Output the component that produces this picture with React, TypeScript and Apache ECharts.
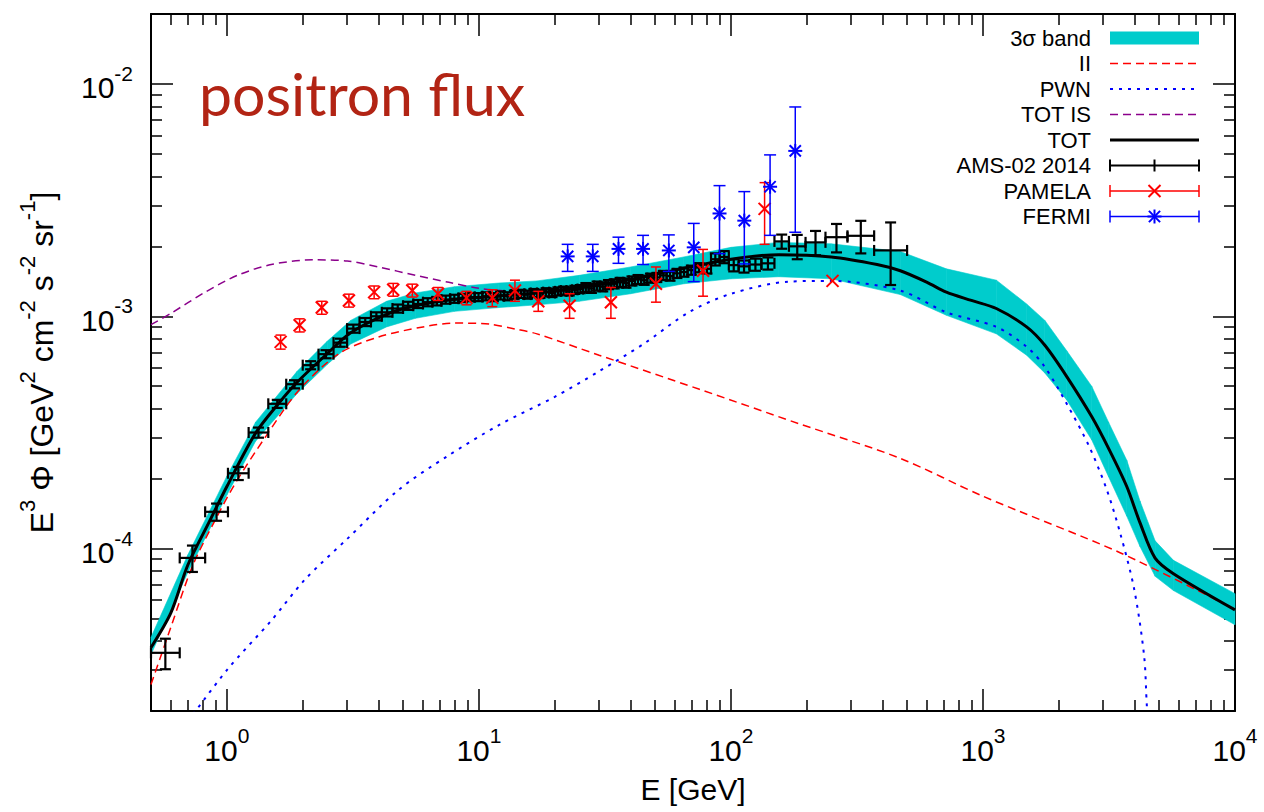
import React, { useEffect, useRef } from "react";
import * as echarts from "echarts";

const FONT = '"Liberation Sans", Arial, Helvetica, sans-serif';
const BAND_COLOR = "#00CCCC";
const RED = "#FF0000";
const BLUE = "#0000FF";
const PURPLE = "#8B008B";
const TITLE_COLOR = "#B22414";

// ---------- axes ----------
const xRange = [0.5, 10000];
const yRange = [2e-5, 2e-2];
const xMajorTicks = [1, 10, 100, 1000, 10000];
const xMinorTicks = [0.6, 0.7, 0.8, 0.9, 2, 3, 4, 5, 6, 7, 8, 9, 20, 30, 40, 50, 60, 70, 80, 90, 200, 300, 400, 500, 600, 700, 800, 900, 2000, 3000, 4000, 5000, 6000, 7000, 8000, 9000];
const yMajorTicks = [1e-4, 1e-3, 1e-2];
const yMinorTicks = [3e-5, 4e-5, 5e-5, 6e-5, 7e-5, 8e-5, 9e-5, 2e-4, 3e-4, 4e-4, 5e-4, 6e-4, 7e-4, 8e-4, 9e-4, 2e-3, 3e-3, 4e-3, 5e-3, 6e-3, 7e-3, 8e-3, 9e-3];

// ---------- model curves ----------
const bandE = [0.5, 0.7, 1.0, 1.3, 1.9, 2.5, 3.1, 4.3, 5.6, 8, 12, 17, 25, 40, 65, 100, 155, 250, 470, 716, 1130, 1490, 1760, 2150, 2700, 3150, 3720, 4200, 4820, 5700, 10000];
const bandUpper = [4.15e-5, 9.4e-5, 2.05e-4, 3.5e-4, 5.8e-4, 7.8e-4, 9.6e-4, 1.16e-3, 1.26e-3, 1.34e-3, 1.39e-3, 1.42e-3, 1.5e-3, 1.63e-3, 1.8e-3, 1.98e-3, 2.08e-3, 2.05e-3, 1.9e-3, 1.6e-3, 1.43e-3, 1.13e-3, 9.6e-4, 7.1e-4, 5.0e-4, 3.5e-4, 2.4e-4, 1.6e-4, 1.08e-4, 8.9e-5, 6.4e-5];
const bandLower = [3.5e-5, 7.9e-5, 1.7e-4, 2.9e-4, 4.65e-4, 6.2e-4, 7.6e-4, 9.0e-4, 9.8e-4, 1.05e-3, 1.09e-3, 1.12e-3, 1.16e-3, 1.25e-3, 1.38e-3, 1.45e-3, 1.48e-3, 1.45e-3, 1.24e-3, 1.01e-3, 8.4e-4, 6.8e-4, 5.7e-4, 4.36e-4, 2.94e-4, 2.04e-4, 1.38e-4, 1.02e-4, 7.6e-5, 6.6e-5, 4.7e-5];

const iiE = [0.5, 0.6, 0.73, 0.9, 1.08, 1.43, 1.93, 2.78, 4.0, 6.0, 8.0, 11, 14, 17, 30, 75, 186, 468, 1000, 3500, 10000];
const iiF = [2.6e-5, 4.6e-5, 8.4e-5, 1.33e-4, 1.91e-4, 3.05e-4, 4.8e-4, 6.9e-4, 8.15e-4, 9.0e-4, 9.35e-4, 9.25e-4, 8.8e-4, 8.4e-4, 6.8e-4, 4.85e-4, 3.45e-4, 2.45e-4, 1.68e-4, 9.6e-5, 5.47e-5];

const pwnE = [0.7, 1.0, 1.5, 2.05, 3.0, 4.8, 7.5, 12, 20, 30, 45, 68, 100, 170, 250, 470, 716, 1130, 1490, 1760, 2150, 2640, 3100, 3500, 3980, 4360, 4470, 4600];
const pwnF = [1.8e-5, 3.0e-5, 4.9e-5, 7.4e-5, 1.1e-4, 1.79e-4, 2.5e-4, 3.4e-4, 4.5e-4, 5.8e-4, 7.6e-4, 1.04e-3, 1.25e-3, 1.41e-3, 1.42e-3, 1.29e-3, 1.04e-3, 9.0e-4, 7.4e-4, 6.05e-4, 4.2e-4, 2.75e-4, 1.79e-4, 1.17e-4, 6.7e-5, 3.45e-5, 2.1e-5, 1.4e-5];

const totIsE = [0.5, 0.6, 0.82, 1.1, 1.5, 2.2, 3.0, 4.0, 5.6, 7.6, 10, 14, 20, 25, 40, 60, 100, 155, 250, 380, 470, 600, 716, 900, 1130, 1490, 1760, 2150, 2700, 3150, 3720, 4200, 4820, 5700, 10000];
const totIsF = [9.2e-4, 1.03e-3, 1.27e-3, 1.5e-3, 1.67e-3, 1.75e-3, 1.73e-3, 1.63e-3, 1.5e-3, 1.4e-3, 1.32e-3, 1.28e-3, 1.3e-3, 1.33e-3, 1.44e-3, 1.58e-3, 1.76e-3, 1.84e-3, 1.8e-3, 1.67e-3, 1.57e-3, 1.4e-3, 1.27e-3, 1.17e-3, 1.08e-3, 9.0e-4, 7.5e-4, 5.5e-4, 3.7e-4, 2.7e-4, 1.85e-4, 1.29e-4, 9.1e-5, 7.8e-5, 5.45e-5];

const totE = [0.5, 0.6, 0.7, 0.85, 1.0, 1.3, 1.6, 1.9, 2.5, 3.1, 4.3, 5.6, 8, 12, 17, 25, 40, 60, 100, 155, 250, 380, 470, 600, 716, 900, 1130, 1490, 1760, 2150, 2700, 3150, 3720, 4200, 4820, 5700, 10000];
const totF = [3.75e-5, 5.3e-5, 8.5e-5, 1.3e-4, 1.85e-4, 3.14e-4, 4.2e-4, 5.2e-4, 6.9e-4, 8.5e-4, 1.02e-3, 1.11e-3, 1.18e-3, 1.22e-3, 1.26e-3, 1.33e-3, 1.44e-3, 1.58e-3, 1.76e-3, 1.84e-3, 1.8e-3, 1.67e-3, 1.57e-3, 1.4e-3, 1.27e-3, 1.17e-3, 1.08e-3, 9.0e-4, 7.5e-4, 5.5e-4, 3.7e-4, 2.7e-4, 1.85e-4, 1.29e-4, 9.1e-5, 7.8e-5, 5.45e-5];

// ---------- AMS-02 2014 (bin edges, values, relative errors) ----------
const amsEdges = [0.5, 0.65, 0.82, 1.01, 1.22, 1.46, 1.72, 2.0, 2.31, 2.65, 3.0, 3.36, 3.73, 4.12, 4.54, 5.0, 5.49, 6.0, 6.54, 7.1, 7.69, 8.3, 8.95, 9.62, 10.32, 11.04, 11.8, 12.59, 13.41, 14.25, 15.14, 16.05, 17.0, 17.98, 18.99, 20.04, 21.13, 22.25, 23.42, 24.62, 25.9, 27.25, 28.68, 30.21, 31.82, 33.53, 35.36, 37.31, 39.39, 41.61, 44.0, 46.57, 49.33, 52.33, 55.58, 59.13, 63.02, 67.3, 72.05, 77.37, 83.36, 90.19, 98.08, 107.3, 118.4, 132.1, 148.8, 169.9, 197.7, 237.2, 290, 370, 500];
const amsF = [3.56e-5, 9.12e-5, 1.44e-4, 2.11e-4, 3.16e-4, 4.2e-4, 5.1e-4, 6.16e-4, 6.87e-4, 7.7e-4, 8.85e-4, 9.45e-4, 1.0e-3, 1.04e-3, 1.08e-3, 1.11e-3, 1.13e-3, 1.15e-3, 1.16e-3, 1.18e-3, 1.19e-3, 1.2e-3, 1.21e-3, 1.21e-3, 1.22e-3, 1.21e-3, 1.23e-3, 1.22e-3, 1.24e-3, 1.25e-3, 1.24e-3, 1.26e-3, 1.25e-3, 1.27e-3, 1.26e-3, 1.28e-3, 1.29e-3, 1.28e-3, 1.3e-3, 1.31e-3, 1.33e-3, 1.32e-3, 1.35e-3, 1.34e-3, 1.37e-3, 1.38e-3, 1.4e-3, 1.39e-3, 1.42e-3, 1.44e-3, 1.43e-3, 1.46e-3, 1.47e-3, 1.5e-3, 1.49e-3, 1.53e-3, 1.55e-3, 1.58e-3, 1.62e-3, 1.6e-3, 1.76e-3, 1.8e-3, 1.66e-3, 1.64e-3, 1.67e-3, 1.69e-3, 2.1e-3, 2.0e-3, 2.08e-3, 2.19e-3, 2.22e-3, 1.92e-3];
const amsErrDown = [0.15, 0.13, 0.085, 0.065, 0.05,
  0.04, 0.04, 0.04, 0.04, 0.04, 0.04, 0.04, 0.04, 0.04, 0.04, 0.04, 0.04, 0.04, 0.04, 0.04, 0.04, 0.04, 0.04, 0.04, 0.04, 0.04, 0.04, 0.04, 0.04, 0.04, 0.04, 0.04, 0.04, 0.04, 0.04, 0.04, 0.04, 0.04, 0.04, 0.04,
  0.045, 0.045, 0.045, 0.045, 0.045, 0.045, 0.045, 0.045, 0.045, 0.045, 0.045, 0.045, 0.045, 0.045, 0.045, 0.045, 0.045, 0.045, 0.045, 0.045,
  0.06, 0.06, 0.06, 0.06, 0.06, 0.06,
  0.07, 0.12, 0.12, 0.14, 0.16, 0.29];
const amsErrUp = [0.15, 0.13, 0.085, 0.065, 0.05,
  0.04, 0.04, 0.04, 0.04, 0.04, 0.04, 0.04, 0.04, 0.04, 0.04, 0.04, 0.04, 0.04, 0.04, 0.04, 0.04, 0.04, 0.04, 0.04, 0.04, 0.04, 0.04, 0.04, 0.04, 0.04, 0.04, 0.04, 0.04, 0.04, 0.04, 0.04, 0.04, 0.04, 0.04, 0.04,
  0.045, 0.045, 0.045, 0.045, 0.045, 0.045, 0.045, 0.045, 0.045, 0.045, 0.045, 0.045, 0.045, 0.045, 0.045, 0.045, 0.045, 0.045, 0.045, 0.045,
  0.06, 0.06, 0.06, 0.06, 0.06, 0.06,
  0.07, 0.12, 0.12, 0.14, 0.16, 0.32];

// ---------- PAMELA ----------
const pamE = [1.634, 1.944, 2.38, 3.05, 3.84, 4.57, 5.44, 6.88, 8.93, 11.3, 13.9, 17.2, 22.9, 33.4, 50.4, 77.5, 136, 253];
const pamF = [7.76e-4, 9.15e-4, 1.09e-3, 1.17e-3, 1.27e-3, 1.3e-3, 1.29e-3, 1.25e-3, 1.2e-3, 1.2e-3, 1.29e-3, 1.16e-3, 1.11e-3, 1.15e-3, 1.38e-3, 1.57e-3, 2.9e-3, 1.42e-3];
const pamLo = [7.22e-4, 8.56e-4, 1.02e-3, 1.095e-3, 1.19e-3, 1.22e-3, 1.21e-3, 1.17e-3, 1.12e-3, 1.1e-3, 1.16e-3, 1.05e-3, 9.8e-4, 9.8e-4, 1.15e-3, 1.22e-3, 2.04e-3, 1.42e-3];
const pamHi = [8.3e-4, 9.75e-4, 1.16e-3, 1.245e-3, 1.35e-3, 1.385e-3, 1.375e-3, 1.33e-3, 1.28e-3, 1.3e-3, 1.43e-3, 1.28e-3, 1.25e-3, 1.33e-3, 1.63e-3, 1.94e-3, 3.76e-3, 1.42e-3];

// ---------- FERMI ----------
const fermiE = [22.5, 28.3, 35.8, 44.8, 56.7, 71.2, 90.1, 113, 143, 180];
const fermiF = [1.81e-3, 1.81e-3, 1.95e-3, 1.95e-3, 1.92e-3, 1.98e-3, 2.77e-3, 2.58e-3, 3.61e-3, 5.15e-3];
const fermiLo = [1.56e-3, 1.56e-3, 1.69e-3, 1.67e-3, 1.56e-3, 1.41e-3, 1.86e-3, 1.68e-3, 2.23e-3, 2.3e-3];
const fermiHi = [2.04e-3, 2.04e-3, 2.19e-3, 2.23e-3, 2.24e-3, 2.51e-3, 3.65e-3, 3.44e-3, 4.95e-3, 7.96e-3];

const legendLabels = ["3σ band", "II", "PWN", "TOT IS", "TOT", "AMS-02 2014", "PAMELA", "FERMI"];

// ---------- helpers ----------
const pairs = (xs: number[], ys: number[]) => xs.map((x, i) => [x, ys[i]]);

function seg(x1: number, y1: number, x2: number, y2: number, stroke: string, lineWidth: number, lineDash?: number[]) {
  return { type: "line", shape: { x1, y1, x2, y2 }, style: { stroke, lineWidth, fill: null, lineDash: lineDash || null } };
}

function tickLabel(v: number) {
  const n = Math.round(Math.log10(v));
  return `{b|10}{s|${n}}`;
}
const tickRich = {
  b: { fontSize: 30, fontFamily: FONT, color: "#000", lineHeight: 50 },
  s: { fontSize: 21, fontFamily: FONT, color: "#000", lineHeight: 21, verticalAlign: "top" },
};

const tickLine = { color: "#000", width: 1.5 };
const frameLine = { color: "#000", width: 2 };

function axisSet(dim: "x" | "y") {
  const range = dim === "x" ? xRange : yRange;
  const major = dim === "x" ? xMajorTicks : yMajorTicks;
  const minor = dim === "x" ? xMinorTicks : yMinorTicks;
  const posA = dim === "x" ? "bottom" : "left";
  const posB = dim === "x" ? "top" : "right";
  const common = {
    type: "log",
    logBase: 10,
    min: range[0],
    max: range[1],
    splitLine: { show: false },
    minorTick: { show: false },
    minorSplitLine: { show: false },
    silent: true,
  };
  const mainLabel =
    dim === "x"
      ? { show: true, customValues: major, formatter: tickLabel, rich: tickRich, margin: 14 }
      : { show: true, customValues: major, formatter: tickLabel, rich: tickRich, margin: 18, padding: [8, 0, 0, 0] };
  const nameCfg =
    dim === "x"
      ? {
          name: "E [GeV]",
          nameLocation: "middle",
          nameGap: 58,
          nameMoveOverlap: false,
          nameTextStyle: { fontSize: 30, fontFamily: FONT, color: "#000", lineHeight: 40 },
        }
      : {
          name: "E{s|3} Φ [GeV{s|2} cm{s|-2} s{s|-2} sr{s|-1}]",
          nameLocation: "middle",
          nameGap: 83,
          nameMoveOverlap: false,
          nameTextStyle: {
            fontSize: 32,
            fontFamily: FONT,
            color: "#000",
            lineHeight: 52,
            rich: { s: { fontSize: 22, fontFamily: FONT, color: "#000", lineHeight: 22, verticalAlign: "top" } },
          },
        };
  return [
    {
      ...common,
      position: posA,
      axisLine: { show: true, onZero: false, lineStyle: frameLine },
      axisTick: { show: true, inside: true, length: 22, customValues: major, lineStyle: tickLine },
      axisLabel: mainLabel,
      ...nameCfg,
    },
    {
      ...common,
      position: posA,
      axisLine: { show: false },
      axisTick: { show: true, inside: true, length: 11, customValues: minor, lineStyle: tickLine },
      axisLabel: { show: false },
    },
    {
      ...common,
      position: posB,
      axisLine: { show: true, onZero: false, lineStyle: frameLine },
      axisTick: { show: true, inside: true, length: 22, customValues: major, lineStyle: tickLine },
      axisLabel: { show: false },
    },
    {
      ...common,
      position: posB,
      axisLine: { show: false },
      axisTick: { show: true, inside: true, length: 11, customValues: minor, lineStyle: tickLine },
      axisLabel: { show: false },
    },
  ];
}

function lineSeries(name: string, xs: number[], ys: number[], color: string, width: number, dash: any, z: number) {
  return {
    type: "line",
    name,
    data: pairs(xs, ys),
    xAxisIndex: 0,
    yAxisIndex: 0,
    symbol: "none",
    showSymbol: false,
    smooth: 0.3,
    clip: true,
    silent: true,
    z,
    emphasis: { disabled: true },
    lineStyle: { color, width, type: dash, cap: "butt" },
  };
}

// legend layout (positions only)
const LEG_TEXT_X = 1091;
const LEG_X1 = 1110;
const LEG_X2 = 1199;
const LEG_Y0 = 38;
const LEG_DY = 25.5;

function xMarker(cx: number, cy: number, r: number, color: string, w: number) {
  return [seg(cx - r, cy - r, cx + r, cy + r, color, w), seg(cx - r, cy + r, cx + r, cy - r, color, w)];
}
function starMarker(cx: number, cy: number, r: number, color: string, w: number) {
  return [
    ...xMarker(cx, cy, r * 0.8, color, w),
    seg(cx - r, cy, cx + r, cy, color, w),
    seg(cx, cy - r, cx, cy + r, color, w),
  ];
}

function buildLegend() {
  const els: any[] = [];
  legendLabels.forEach((label, i) => {
    const y = LEG_Y0 + i * LEG_DY;
    els.push({
      type: "text",
      x: LEG_TEXT_X,
      y,
      style: { text: label, fontSize: 22, fontFamily: FONT, fill: "#000", align: "right", verticalAlign: "middle" },
    });
    const mid = (LEG_X1 + LEG_X2) / 2;
    if (i === 0) {
      els.push({ type: "rect", shape: { x: LEG_X1, y: y - 6.5, width: LEG_X2 - LEG_X1, height: 13 }, style: { fill: BAND_COLOR } });
    } else if (i === 1) {
      els.push(seg(LEG_X1, y, LEG_X2, y, RED, 1.5, [8, 5]));
    } else if (i === 2) {
      els.push(seg(LEG_X1, y, LEG_X2, y, BLUE, 2, [3, 6]));
    } else if (i === 3) {
      els.push(seg(LEG_X1, y, LEG_X2, y, PURPLE, 1.5, [8, 5]));
    } else if (i === 4) {
      els.push(seg(LEG_X1, y, LEG_X2, y, "#000", 3));
    } else {
      const color = i === 5 ? "#000" : i === 6 ? RED : BLUE;
      const w = i === 5 ? 2 : 1.5;
      els.push(seg(LEG_X1, y, LEG_X2, y, color, w));
      els.push(seg(LEG_X1, y - 6, LEG_X1, y + 6, color, w));
      els.push(seg(LEG_X2, y - 6, LEG_X2, y + 6, color, w));
      if (i === 5) els.push(seg(mid, y - 6, mid, y + 6, color, w));
      if (i === 6) els.push(...xMarker(mid, y, 6, color, 2));
      if (i === 7) els.push(...starMarker(mid, y, 7, color, 2));
    }
  });
  return els;
}

function buildOption() {
  const amsData = amsF.map((f, i) => {
    const lo = amsEdges[i];
    const hi = amsEdges[i + 1];
    return [Math.sqrt(lo * hi), f, lo, hi, f * (1 - amsErrDown[i]), f * (1 + amsErrUp[i])];
  });
  const pamData = pamE.map((e, i) => [e, pamF[i], pamLo[i], pamHi[i]]);
  const fermiData = fermiE.map((e, i) => [e, fermiF[i], fermiLo[i], fermiHi[i]]);
  const bandData = bandE.map((e, i) => [e, bandUpper[i], bandLower[i]]);

  return {
    animation: false,
    backgroundColor: "#ffffff",
    grid: { left: 151, right: 29, top: 14, bottom: 101, containLabel: false, outerBoundsMode: "none" },
    xAxis: axisSet("x"),
    yAxis: axisSet("y"),
    series: [
      {
        type: "custom",
        name: "3σ band",
        coordinateSystem: "cartesian2d",
        xAxisIndex: 0,
        yAxisIndex: 0,
        data: bandData,
        encode: { x: 0, y: 1 },
        silent: true,
        z: 1,
        renderItem: (params: any, api: any) => {
          const i = params.dataIndex;
          if (i >= bandE.length - 1) return null;
          const a1 = api.coord([bandE[i], bandUpper[i]]);
          const b1 = api.coord([bandE[i + 1], bandUpper[i + 1]]);
          const b2 = api.coord([bandE[i + 1], bandLower[i + 1]]);
          const a2 = api.coord([bandE[i], bandLower[i]]);
          return {
            type: "polygon",
            shape: { points: [a1, b1, b2, a2] },
            style: { fill: BAND_COLOR, stroke: BAND_COLOR, lineWidth: 0.6 },
          };
        },
      },
      lineSeries("II", iiE, iiF, RED, 1.5, [8, 5], 2),
      lineSeries("PWN", pwnE, pwnF, BLUE, 2, [3, 6], 2),
      lineSeries("TOT IS", totIsE, totIsF, PURPLE, 1.5, [8, 5], 2),
      lineSeries("TOT", totE, totF, "#000", 3, "solid", 3),
      {
        type: "custom",
        name: "AMS-02 2014",
        coordinateSystem: "cartesian2d",
        xAxisIndex: 0,
        yAxisIndex: 0,
        data: amsData,
        encode: { x: 0, y: 1 },
        silent: true,
        z: 4,
        renderItem: (params: any, api: any) => {
          const c = api.coord([api.value(0), api.value(1)]);
          const l = api.coord([api.value(2), api.value(1)]);
          const r = api.coord([api.value(3), api.value(1)]);
          const b = api.coord([api.value(0), api.value(4)]);
          const t = api.coord([api.value(0), api.value(5)]);
          const k = "#000";
          const w = 2.2;
          const cap = 5.5;
          return {
            type: "group",
            children: [
              seg(l[0], c[1], r[0], c[1], k, w),
              seg(c[0], b[1], c[0], t[1], k, w),
              seg(l[0], c[1] - cap, l[0], c[1] + cap, k, w),
              seg(r[0], c[1] - cap, r[0], c[1] + cap, k, w),
              seg(c[0] - cap, b[1], c[0] + cap, b[1], k, w),
              seg(c[0] - cap, t[1], c[0] + cap, t[1], k, w),
            ],
          };
        },
      },
      {
        type: "custom",
        name: "PAMELA",
        coordinateSystem: "cartesian2d",
        xAxisIndex: 0,
        yAxisIndex: 0,
        data: pamData,
        encode: { x: 0, y: 1 },
        silent: true,
        z: 5,
        renderItem: (params: any, api: any) => {
          const c = api.coord([api.value(0), api.value(1)]);
          const b = api.coord([api.value(0), api.value(2)]);
          const t = api.coord([api.value(0), api.value(3)]);
          const children: any[] = [...xMarker(c[0], c[1], 6, RED, 2)];
          if (b[1] - t[1] > 1) {
            children.push(seg(c[0], b[1], c[0], t[1], RED, 1.5));
            children.push(seg(c[0] - 5, b[1], c[0] + 5, b[1], RED, 1.5));
            children.push(seg(c[0] - 5, t[1], c[0] + 5, t[1], RED, 1.5));
          }
          return { type: "group", children };
        },
      },
      {
        type: "custom",
        name: "FERMI",
        coordinateSystem: "cartesian2d",
        xAxisIndex: 0,
        yAxisIndex: 0,
        data: fermiData,
        encode: { x: 0, y: 1 },
        silent: true,
        z: 6,
        renderItem: (params: any, api: any) => {
          const c = api.coord([api.value(0), api.value(1)]);
          const b = api.coord([api.value(0), api.value(2)]);
          const t = api.coord([api.value(0), api.value(3)]);
          return {
            type: "group",
            children: [
              seg(c[0], b[1], c[0], t[1], BLUE, 1.5),
              seg(c[0] - 6, b[1], c[0] + 6, b[1], BLUE, 1.5),
              seg(c[0] - 6, t[1], c[0] + 6, t[1], BLUE, 1.5),
              ...starMarker(c[0], c[1], 7, BLUE, 2),
            ],
          };
        },
      },
    ],
    graphic: [
      {
        type: "text",
        x: 199,
        y: 93,
        z: 100,
        style: { text: "positron flux", fontSize: 59, fontFamily: "Lato, 'Open Sans', sans-serif", fill: TITLE_COLOR, verticalAlign: "middle" },
      },
      ...buildLegend().map((e) => ({ ...e, z: 100 })),
    ],
  };
}

export default function App() {
  const ref = useRef<HTMLDivElement>(null);
  useEffect(() => {
    const chart = echarts.init(ref.current as HTMLDivElement, null, { renderer: "svg" });
    chart.setOption(buildOption() as any);
    return () => {
      chart.dispose();
    };
  }, []);
  return (
    <div
      ref={ref}
      style={{ position: "fixed", left: 0, top: 0, width: 1264, height: 812, background: "#fff" }}
    />
  );
}
